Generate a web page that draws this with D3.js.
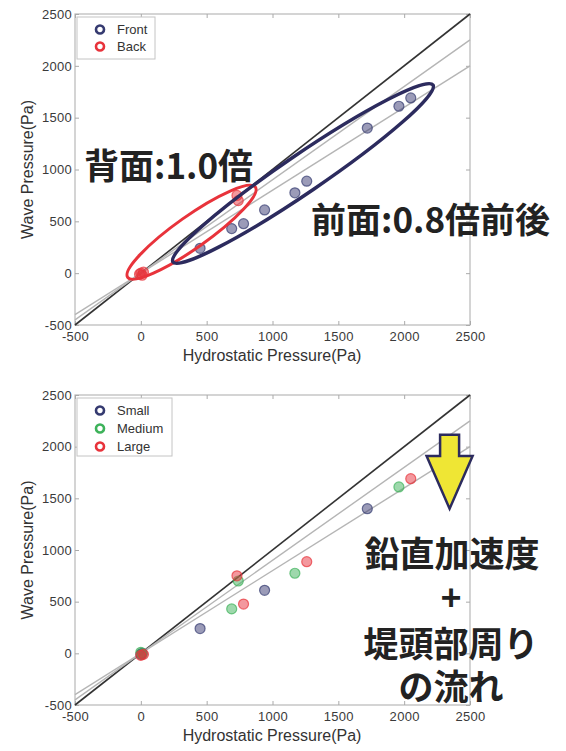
<!DOCTYPE html>
<html>
<head>
<meta charset="utf-8">
<script src="https://cdn.jsdelivr.net/npm/d3@7/dist/d3.min.js"></script>
<style>
  html, body { margin: 0; padding: 0; background: #fff; }
  svg { display: block; }
  .tick text { font-family: "Liberation Sans", Arial, sans-serif; font-size: 13px; fill: #3a3a3a; letter-spacing: 0.3px; }
  .axlabel { font-family: "Liberation Sans", Arial, sans-serif; font-size: 16px; fill: #333; }
  .leg { font-family: "Liberation Sans", Arial, sans-serif; font-size: 13px; fill: #333; }
  .jp { font-family: "Noto Sans CJK JP", sans-serif; font-weight: 700; font-size: 35px; fill: #222; }
</style>
</head>
<body>
<script>
// Axis ranges and ticks shared by both panels
const axisDomain = [-500, 2500];
const xTicks = [-500, 0, 500, 1000, 1500, 2000, 2500];
const yTicks = [-500, 0, 500, 1000, 1500, 2000, 2500];

// Reference lines: wave = slope * hydrostatic
const refSlopes = [1.0, 0.9, 0.8];

// Panel 1: front / back of the breakwater
const frontHydro = [450, 690, 780, 940, 1170, 1260, 1720, 1960, 2050];
const frontWave  = [240, 430, 477, 610, 775, 887, 1400, 1610, 1690];
const backHydro  = [-10, 0, 10, 20, 730, 740];
const backWave   = [-10, 0, -20, 10, 750, 700];

// Panel 2: by wave size
const smallHydro  = [0, 10, 450, 940, 1720];
const smallWave   = [-10, 0, 240, 610, 1400];
const mediumHydro = [0, 10, 690, 740, 1170, 1960];
const mediumWave  = [10, -10, 430, 700, 775, 1610];
const largeHydro  = [0, 20, 730, 780, 1260, 2050];
const largeWave   = [-20, -10, 750, 477, 887, 1690];

const COLORS = { navy: "#353a70", red: "#e8333b", green: "#3db25a" };

const W = 566, H = 751;
const svg = d3.select("body").append("svg").attr("width", W).attr("height", H);

const defs = svg.append("defs");
defs.append("filter").attr("id", "soft")
  .append("feGaussianBlur").attr("stdDeviation", 0.6);

function zip(xs, ys) { return xs.map((v, i) => ({ x: v, y: ys[i] })); }
const plain = d => String(d).replace("\u2212", "-");

function panel(top, bottom, series) {
  const x = d3.scaleLinear().domain(axisDomain).range([75, 470]);
  const y = d3.scaleLinear().domain(axisDomain).range([bottom, top]);
  const g = svg.append("g");

  // frame
  g.append("rect").attr("x", x.range()[0]).attr("y", top)
    .attr("width", x.range()[1] - x.range()[0]).attr("height", bottom - top)
    .attr("fill", "none").attr("stroke", "#b8b8b8").attr("stroke-width", 1.2);

  const style = sel => {
    sel.select(".domain").remove();
    sel.selectAll(".tick line").attr("stroke", "#aaa");
  };
  g.append("g").attr("transform", `translate(0,${bottom})`)
    .call(d3.axisBottom(x).tickValues(xTicks).tickFormat(plain).tickSize(-4).tickPadding(7).tickSizeOuter(0)).call(style);
  g.append("g").attr("transform", `translate(75,0)`)
    .call(d3.axisLeft(y).tickValues(yTicks).tickFormat(plain).tickSize(-4).tickPadding(3).tickSizeOuter(0)).call(style);
  g.append("g").attr("transform", `translate(0,${top})`)
    .call(d3.axisTop(x).tickValues(xTicks).tickSize(-4).tickFormat("").tickSizeOuter(0)).call(style);
  g.append("g").attr("transform", `translate(470,0)`)
    .call(d3.axisRight(y).tickValues(yTicks).tickSize(-4).tickFormat("").tickSizeOuter(0)).call(style);

  // reference lines
  refSlopes.forEach(s => {
    g.append("line")
      .attr("x1", x(-500)).attr("y1", y(-500 * s))
      .attr("x2", x(2500)).attr("y2", y(2500 * s))
      .attr("stroke", s === 1 ? "#333" : "#b5b5b5")
      .attr("stroke-width", s === 1 ? 1.6 : 1.4);
  });

  // markers
  const mg = g.append("g").attr("filter", "url(#soft)");
  series.forEach(sr => {
    mg.selectAll(null).data(zip(sr.xs, sr.ys)).enter().append("circle")
      .attr("cx", d => x(d.x)).attr("cy", d => y(d.y)).attr("r", 5)
      .attr("fill", sr.color).attr("fill-opacity", 0.5)
      .attr("stroke", sr.color).attr("stroke-opacity", 0.7).attr("stroke-width", 1.2);
  });

  // legend
  const two = series.length === 2;
  g.append("rect").attr("x", 77).attr("y", top + 3).attr("width", two ? 78 : 95).attr("height", two ? 42 : 58)
    .attr("fill", "#fff").attr("stroke", "#c4c4c4").attr("stroke-width", 1);
  const lg = g.selectAll(".legrow").data(series).enter().append("g")
    .attr("transform", (d, i) => `translate(100,${top + 15.5 + i * (two ? 17 : 18)})`);
  lg.append("circle").attr("r", 4).attr("fill", "none")
    .attr("stroke", d => d.color).attr("stroke-width", 2.6);
  lg.append("text").attr("class", "leg").attr("x", 17).attr("dy", "0.35em").text(d => d.name);

  // axis titles
  g.append("text").attr("class", "axlabel").attr("text-anchor", "middle")
    .attr("x", 272).attr("y", bottom + 36).text("Hydrostatic Pressure(Pa)");
  g.append("text").attr("class", "axlabel").attr("text-anchor", "middle")
    .attr("transform", `translate(33,${(top + bottom) / 2}) rotate(-90)`).text("Wave Pressure(Pa)");

  return { g, x, y };
}

// ---- top panel
const p1 = panel(14, 325, [
  { name: "Front", color: COLORS.navy, xs: frontHydro, ys: frontWave },
  { name: "Back", color: COLORS.red, xs: backHydro, ys: backWave }
]);

// ellipses grouping the two populations, given by their end points in data units
function groupEllipse(p, a, b, ry, color, sw) {
  const x1 = p.x(a[0]), y1 = p.y(a[1]), x2 = p.x(b[0]), y2 = p.y(b[1]);
  const cx = (x1 + x2) / 2, cy = (y1 + y2) / 2;
  const rx = Math.hypot(x2 - x1, y2 - y1) / 2;
  const ang = Math.atan2(y2 - y1, x2 - x1) * 180 / Math.PI;
  p.g.append("ellipse").attr("cx", 0).attr("cy", 0).attr("rx", rx).attr("ry", ry)
    .attr("transform", `translate(${cx},${cy}) rotate(${ang})`)
    .attr("fill", "none").attr("stroke", color).attr("stroke-width", sw);
}
groupEllipse(p1, [-100, -40], [870, 830], 16, "#e8333b", 3);
groupEllipse(p1, [244, 108], [2219, 1815], 19, "#2c2b5e", 3.5);

p1.g.append("text").attr("class", "jp").attr("x", 84).attr("y", 179).text("背面:1.0倍");
p1.g.append("text").attr("class", "jp").attr("x", 311).attr("y", 233).text("前面:0.8倍前後");

// ---- bottom panel
const p2 = panel(395, 705, [
  { name: "Small", color: COLORS.navy, xs: smallHydro, ys: smallWave },
  { name: "Medium", color: COLORS.green, xs: mediumHydro, ys: mediumWave },
  { name: "Large", color: COLORS.red, xs: largeHydro, ys: largeWave }
]);

// downward arrow
(function () {
  const cx = p2.x(2345), yTop = p2.y(2115), yHead = p2.y(1910), yTip = p2.y(1400);
  const sw = 9.5, hw = 23;
  const pts = [[cx - sw, yTop], [cx + sw, yTop], [cx + sw, yHead], [cx + hw, yHead],
               [cx, yTip], [cx - hw, yHead], [cx - sw, yHead]];
  p2.g.append("polygon").attr("points", pts.map(d => d.join(",")).join(" "))
    .attr("fill", "#efe634").attr("stroke", "#2c2b5e").attr("stroke-width", 2.5)
    .attr("stroke-linejoin", "miter");
})();

const cap = p2.g.append("g").attr("class", "jp").attr("text-anchor", "middle");
cap.append("text").attr("x", 452).attr("y", 567).text("鉛直加速度");
cap.append("text").attr("x", 451).attr("y", 611).text("+");
cap.append("text").attr("x", 451).attr("y", 657).text("堤頭部周り");
cap.append("text").attr("x", 451).attr("y", 700).text("の流れ");
</script>
</body>
</html>
